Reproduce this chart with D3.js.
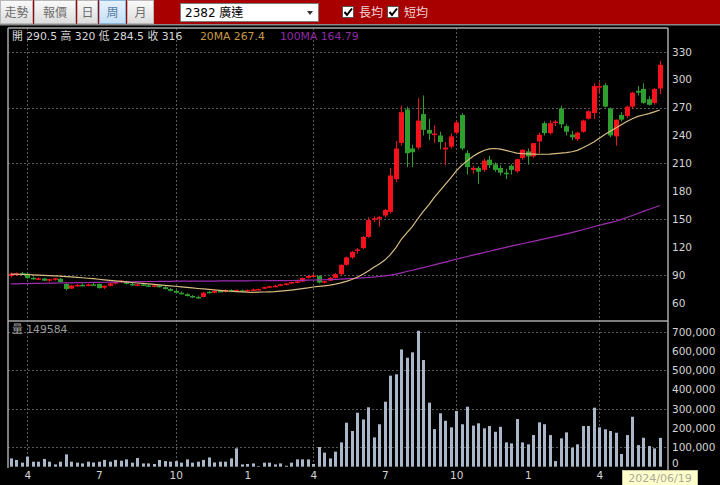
<!DOCTYPE html>
<html><head><meta charset="utf-8">
<script src="https://cdn.jsdelivr.net/npm/d3@7"></script>
<style>
html,body{margin:0;padding:0;background:#000;overflow:hidden;}
svg{display:block;}
</style></head><body>
<svg id="c" width="720" height="485"></svg>
<script>
// ---- data (weekly, 2382 廣達) ----
const opens = [89,90,92,91.5,87,85.5,86.3,84,85,86,80.5,75.5,78.5,79.5,78.5,80,80.5,76.5,78.5,81,82.5,83.5,80.5,79,80,79,78,79,77,75,73,71,69.5,67.5,66.5,66.5,72,71,73,72,74,73,73.5,72.5,74,74.5,75.5,77,78,78.5,80,81,82.5,83,87,89,89.2,82,84,87,91,101,109,116,119,131,149.5,150.5,154,158,193,232,268,226,227,263,246,241,240,225,228,243,262,221,203,205,203,214,209,205,200,207.5,201.5,215.7,222.9,217.5,233.6,253.2,242.5,253.5,269,250,241,236,244,258,264,292,294,269,239,262,261,271,288,290,279,275,290.5];
const highs = [92.5,92.8,93.5,92.5,88.5,87.5,87,86,87,86.8,81,79.5,80.5,81,80.8,81.5,80.8,79,81.5,83,84.5,84,81.5,80.5,81,80,79.5,79.5,78,76,74,72.5,70.5,68.5,68,72,73,73.5,74,74.5,74.8,74.5,74.5,74.5,75.5,75.5,77.5,78.5,79.5,80.5,81.5,83,84,87.5,89.5,91,89.5,84,88,92,101.5,110,116,119,132,152,153,153.5,161,205,234,272,271,230,280,283,258,251,244,233,242,256,264,224,207,207,215,218,211,208,204,209,215,225,226,232,243,255,256,256.5,272,252,245,244,257,267,296,297,296,270,257,265,272,287,293,296,282,291,320];
const lows = [87.5,89,90.5,86,85,84.5,83.5,82.8,84,82,73.5,75,77.5,78,77.8,78.5,75.5,75,78,80,81.5,80,78.5,78,78.5,77.5,77,76.5,74.5,72.5,70.5,69,67,65.5,64.5,66,70.5,70.5,71.5,71.5,72.5,72.5,72,72,73,74,75,76,77.5,78,79,80.5,81,82.5,86.5,88,81,81,83.5,86.5,90,100,107.5,113,118,130,147,142,152,156,190,229,206,206,225,240,235,232,225,208,226,241,224,198,199,188,201,205,201,197,193,198,200,214,208.6,216,221,240,241,250,248,240,235,234,243,257,258,285,270,238,229,255,259,269,283,274,272,273,284.5];
const closes = [91.5,92,91,86.8,85.8,86.5,84,85.6,86.5,82.5,75,78.8,79.5,78.5,80,79,76,78.5,81,82.5,84,80.5,79,80,79.2,78,79,77,75,73,71,69.5,67.5,66.5,66,71,71,73,72,74,73,74,72.5,74,74.5,75,77,78,78.5,80,81,82.5,83.2,86.8,89,89.5,82,83.5,87,91,101,109,115,117.5,131,149,151,152.5,160,197,226,265,221,222,256,246,242,242,233,227,239,254,226,206,205,201,213,208,203,200,199,203,214.5,224.6,217.5,231.8,240.7,242.5,253.2,255,252,244,238,243,256,266,293,293,271,240,257,257,271,286,286,275,273,290,316];
const volumes = [43000,35000,21000,52000,26000,26000,40000,26000,12000,26000,64000,26000,21000,17000,26000,22000,26000,35000,26000,35000,31000,38000,21000,45000,17000,17000,14000,35000,29000,26000,29000,21000,38000,21000,26000,35000,48000,22000,26000,26000,43000,95000,12000,14000,17000,3000,21000,21000,12000,17000,5000,21000,38000,38000,38000,14000,102000,73000,43000,78000,126000,228000,185000,280000,245000,308000,152000,220000,337000,472000,479000,608000,565000,593000,705000,553000,332000,195000,277000,238000,204000,289000,220000,311000,213000,225000,199000,211000,181000,207000,126000,121000,247000,126000,116000,164000,230000,220000,164000,29000,147000,178000,99000,116000,211000,211000,306000,204000,194000,185000,176000,66000,164000,259000,112000,150000,107000,95000,149584];
const ma20 = [91.0,90.9,90.8,90.6,90.3,90.0,89.7,89.4,89.1,88.8,88.4,88.0,87.6,87.1,86.6,86.1,85.5,84.9,84.3,83.7,83.2,82.6,82.0,81.5,81.0,80.5,80.0,79.5,79.0,78.5,78.0,77.4,76.8,76.2,75.6,75.1,74.6,74.1,73.6,73.1,72.6,72.2,71.9,71.6,71.5,71.6,71.8,72.0,72.3,72.8,73.3,73.9,74.6,75.4,76.2,77.2,77.8,78.5,79.3,80.3,81.6,83.3,85.3,87.6,90.9,94.5,98.3,102.0,106.1,112.0,119.3,128.5,135.3,142.0,150.5,158.5,165.5,173.5,180.5,187.5,194.5,202.0,208.0,213.0,217.5,221.0,223.8,225.5,226.0,225.3,224.0,222.5,221.0,220.5,220.2,220.0,219.8,219.8,220.0,220.5,221.0,221.5,222.5,224.0,226.8,229.8,233.0,237.0,241.0,244.5,248.0,251.5,255.0,258.0,260.5,262.0,263.5,265.3,267.4];
const ma100 = [80.5,80.6,80.8,80.9,81.0,81.1,81.2,81.3,81.4,81.5,81.6,81.7,81.8,81.9,82.0,82.1,82.2,82.3,82.4,82.5,82.6,82.7,82.8,82.9,83.0,83.1,83.1,83.2,83.3,83.3,83.4,83.4,83.5,83.5,83.5,83.6,83.6,83.6,83.7,83.7,83.7,83.8,83.8,83.8,83.9,83.9,83.9,84.0,84.0,84.1,84.1,84.2,84.3,84.4,84.5,84.7,84.8,85.0,85.2,85.4,85.7,86.0,86.3,86.6,87.0,87.4,87.9,88.5,89.2,90.0,91.1,92.4,93.8,95.2,96.6,98.0,99.5,101.0,102.5,104.0,105.5,107.0,108.5,110.0,111.4,112.8,114.2,115.6,117.0,118.4,119.8,121.1,122.4,123.7,125.0,126.3,127.6,128.9,130.2,131.5,132.9,134.3,135.7,137.2,138.7,140.3,141.9,143.5,145.0,146.4,147.8,149.8,151.9,154.0,156.2,158.4,160.5,162.6,164.79];
const priceTicks = [60,90,120,150,180,210,240,270,300,330];
const priceGrid = [90,150,210,270,330];
const volTicks = [0,100000,200000,300000,400000,500000,600000,700000];
const volGrid = [100000,300000,500000,700000];
const labelMonths = [1,4,7,10];
const gridMonths = [4,10];
const lastDateText = "2024/06/19";
const skipWeeks = ["2023-01-27"];
const menuItems = ["走勢","報價","日","周","月"];
const stockName = "2382 廣達";

// weekly dates (week-end Fridays, Lunar New Year closure week skipped)
const fmt = d3.timeFormat("%Y-%m-%d");
let dates = d3.timeFriday.range(new Date(2022,2,11), new Date(2024,5,22)).filter(d => !skipWeeks.includes(fmt(d)));
dates[dates.length-1] = d3.timeParse("%Y/%m/%d")(lastDateText);
const N = closes.length;

const svg = d3.select("#c");
const FONT = "'DejaVu Sans','Noto Sans CJK TC',sans-serif";

// ---- scales ----
const L = 8, R = 668, PT = 28, PB = 321, VB = 468;
const x = d3.scaleLinear().domain([0, N-1]).range([10.8, 659.8]);
const y = d3.scaleLinear().domain([60, 330]).range([303, 51.7]);
const yv = d3.scaleLinear().domain([0, 700000]).range([466.7, 331.7]);

// ---- background ----
svg.append("rect").attr("width",720).attr("height",485).attr("fill","#000");

// ---- top bar ----
const bar = svg.append("g");
bar.append("rect").attr("x",0).attr("y",0).attr("width",720).attr("height",25).attr("fill","#a80000");
bar.append("rect").attr("x",0).attr("y",24).attr("width",720).attr("height",1.5).attr("fill","#8a8a8a");
const defs = svg.append("defs");
const gBtn = defs.append("linearGradient").attr("id","btn").attr("x1",0).attr("y1",0).attr("x2",0).attr("y2",1);
gBtn.append("stop").attr("offset","0%").attr("stop-color","#fafafa");
gBtn.append("stop").attr("offset","100%").attr("stop-color","#dcdcdc");
const gSel = defs.append("linearGradient").attr("id","btnsel").attr("x1",0).attr("y1",0).attr("x2",0).attr("y2",1);
gSel.append("stop").attr("offset","0%").attr("stop-color","#e6f2fd");
gSel.append("stop").attr("offset","100%").attr("stop-color","#c4dff7");
const btnX = [0,34,77,99,127];
const btnW = [33,42,21,27,27];
menuItems.forEach((t,i) => {
  bar.append("rect").attr("x",btnX[i]+0.5).attr("y",0.5).attr("width",btnW[i]-1).attr("height",23)
    .attr("fill", i===3 ? "url(#btnsel)" : "url(#btn)")
    .attr("stroke", i===3 ? "#8cb8e0" : "#b8b8b8");
  bar.append("text").attr("x",btnX[i]+btnW[i]/2).attr("y",17).attr("text-anchor","middle")
    .attr("font-family",FONT).attr("font-size",12).attr("fill", i===3 ? "#5a7fa8" : "#6d6d6d").text(t);
});
bar.append("rect").attr("x",180.5).attr("y",3.5).attr("width",138).attr("height",18).attr("fill","#fff").attr("stroke","#7a7a7a");
bar.append("text").attr("x",185).attr("y",17).attr("font-family",FONT).attr("font-size",12).attr("fill","#000").text(stockName);
bar.append("path").attr("d","M307,11 L313,11 L310,15 Z").attr("fill","#333");
[[342,"長均"],[387,"短均"]].forEach(([cx,t]) => {
  bar.append("rect").attr("x",cx+0.5).attr("y",6.5).attr("width",11).attr("height",11).attr("fill","#fff").attr("stroke","#555");
  bar.append("path").attr("d",`M${cx+2.5},${12} L${cx+5},${15} L${cx+10},${8.5}`).attr("fill","none").attr("stroke","#000").attr("stroke-width",2);
  bar.append("text").attr("x",cx+17).attr("y",17).attr("font-family",FONT).attr("font-size",12).attr("fill","#f0d8d8").text(t);
});

// ---- grid ----
const grid = svg.append("g").attr("stroke","#5a5a5a").attr("stroke-dasharray","2,2").attr("stroke-width",1);
priceGrid.forEach(v => grid.append("line").attr("x1",L).attr("x2",R).attr("y1",Math.round(y(v))+0.5).attr("y2",Math.round(y(v))+0.5));
volGrid.forEach(v => grid.append("line").attr("x1",L).attr("x2",R).attr("y1",Math.round(yv(v))+0.5).attr("y2",Math.round(yv(v))+0.5));
const tickIdx = [];
dates.forEach((d,i) => { if (i>0 && d.getMonth() !== dates[i-1].getMonth() && labelMonths.includes(d.getMonth()+1)) tickIdx.push(i); });
tickIdx.filter(i => gridMonths.includes(dates[i].getMonth()+1)).forEach(i => {
  const xx = Math.round(x(i))+0.5;
  grid.append("line").attr("x1",xx).attr("x2",xx).attr("y1",PT).attr("y2",VB);
});

// ---- clip ----
defs.append("clipPath").attr("id","pclip").append("rect").attr("x",L+1).attr("y",PT+1).attr("width",R-L-1).attr("height",PB-PT-1);

// ---- candles ----
const UP = "#f4121c", DN = "#2e9e2e";
const cg = svg.append("g").attr("clip-path","url(#pclip)");
d3.range(N).forEach(i => {
  const up = closes[i] >= opens[i];
  const col = up ? UP : DN;
  const cx = Math.round(x(i));
  cg.append("line").attr("x1",cx+0.5).attr("x2",cx+0.5).attr("y1",y(highs[i])).attr("y2",y(lows[i])).attr("stroke",col).attr("stroke-width",1);
  const top = y(Math.max(opens[i],closes[i])), bot = y(Math.min(opens[i],closes[i]));
  cg.append("rect").attr("x",cx-2).attr("y",top).attr("width",5).attr("height",Math.max(1.5,bot-top)).attr("fill",col);
});
// MA lines
const line = d3.line().x((d,i)=>x(i)).y(d=>y(d));
cg.append("path").datum(ma100).attr("d",line).attr("fill","none").attr("stroke","#a02cb4").attr("stroke-width",1.2);
cg.append("path").datum(ma20).attr("d",line).attr("fill","none").attr("stroke","#d8bd82").attr("stroke-width",1.2);

// ---- volume bars ----
const vg = svg.append("g");
d3.range(N).forEach(i => {
  const cx = Math.round(x(i));
  vg.append("rect").attr("x",cx-1).attr("y",yv(volumes[i])).attr("width",3).attr("height",yv(0)-yv(volumes[i])).attr("fill","#a9b7c8");
});

// ---- frame ----
const fr = svg.append("g").attr("stroke","#a8a8a8").attr("stroke-width",1.5).attr("fill","none");
fr.append("line").attr("x1",L).attr("x2",R).attr("y1",PT).attr("y2",PT);
fr.append("line").attr("x1",L).attr("x2",R).attr("y1",PB).attr("y2",PB);
fr.append("line").attr("x1",L).attr("x2",L).attr("y1",PT).attr("y2",VB);
fr.append("line").attr("x1",R).attr("x2",R).attr("y1",PT).attr("y2",485);

// ---- axes ----
const ay = svg.append("g").attr("transform",`translate(${R+2},0)`)
  .call(d3.axisRight(y).tickValues(priceTicks).tickSize(0).tickPadding(2));
const avy = svg.append("g").attr("transform",`translate(${R+2},0)`)
  .call(d3.axisRight(yv).tickValues(volTicks).tickSize(0).tickPadding(2).tickFormat(d3.format(",")));
const ax = svg.append("g").attr("transform",`translate(0,${VB})`)
  .call(d3.axisBottom(x).tickValues(tickIdx).tickSize(0).tickPadding(4).tickFormat(i => String(dates[i].getMonth()+1)));
[ay,avy,ax].forEach(g => {
  g.select(".domain").remove();
  g.selectAll("text").attr("fill","#d4d4d4").attr("font-family",FONT).attr("font-size",10.5);
});
// zero label sits just above the date box
avy.selectAll(".tick").filter(d => d === 0).select("text").attr("dy","-0.05em");

// ---- header texts ----
const last = N-1;
const hdr = svg.append("g").attr("font-family",FONT).attr("font-size",10.8);
hdr.append("text").attr("x",12).attr("y",40).attr("fill","#d8d8d8")
  .text(`開 ${opens[last]} 高 ${highs[last]} 低 ${lows[last]} 收 ${closes[last]}`);
hdr.append("text").attr("x",200).attr("y",40).attr("fill","#c99a45").text(`20MA ${ma20[last]}`);
hdr.append("text").attr("x",280).attr("y",40).attr("fill","#8f2aa6").text(`100MA ${ma100[last]}`);
hdr.append("text").attr("x",12).attr("y",333).attr("fill","#9a9a9a").text(`量 ${volumes[last]}`);

// ---- date box ----
svg.append("rect").attr("x",622.5).attr("y",470.5).attr("width",75).attr("height",15).attr("fill","#ffffcc").attr("stroke","#c8c8a0");
svg.append("text").attr("x",660).attr("y",482).attr("text-anchor","middle").attr("font-family",FONT).attr("font-size",11).attr("fill","#aaa99a").text(lastDateText);
</script>
</body></html>
